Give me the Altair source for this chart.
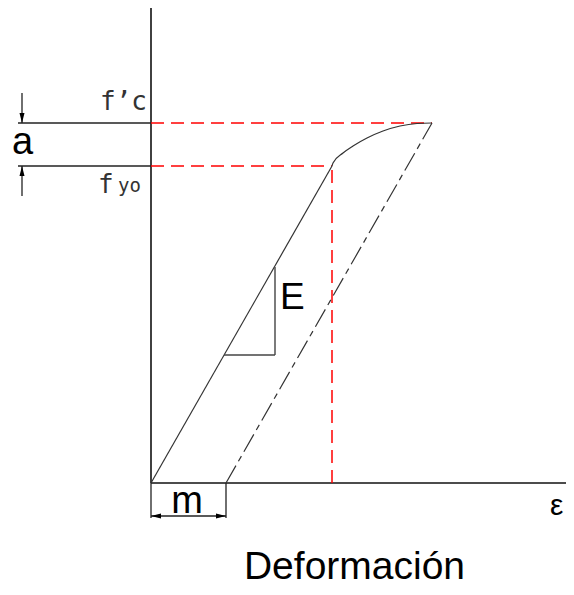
import altair as alt
import pandas as pd

# ---- values (chart units: strain on x, stress on y) ----
f_c = 36.0        # f'c  (peak stress)
f_yo = 31.7       # f_yo (yield stress)
eps_yo = 18.1     # strain at f_yo
eps_c = 28.1      # strain at f'c
m = 7.5           # residual strain offset
axis_top = 47.5
axis_right = 41.5

curve_eps = [18.1, 18.2, 19.2, 20.2, 21.6, 23.2, 24.9, 26.6, 28.1]
curve_sig = [31.7, 32.0, 33.0, 33.7, 34.5, 35.2, 35.7, 35.95, 36.0]

tri_eps = [7.3, 12.4, 12.4]
tri_sig = [12.8, 12.8, 21.6]

ext_left = -13.3      # left end of f'c / f_yo extension lines
a_dim_x = -12.9       # x of the 'a' dimension arrows
a_dim_len = 3.0       # length of each arrow stem
m_dim_y = -3.3        # y of the 'm' dimension line
m_ext_y = -3.5        # bottom of the 'm' extension lines

labels = ["a", "E", "m", "ε", "Deformación"]
label_x = [-13.9, 12.9, 3.6, 39.9, 20.35]
label_y = [32.9, 17.4, -3.0, -3.2, -9.55]
label_size = [38, 37, 38, 30, 39]
label_align = ["left", "left", "center", "left", "center"]

xs = alt.Scale(domain=[-14.3, 41.5], nice=False, zero=False)
ys = alt.Scale(domain=[-10.4, 47.5], nice=False, zero=False)


def seg(rows):
    return pd.DataFrame(rows, columns=["x", "y", "x2", "y2"])


def rules(df, color, width, dash=None):
    kw = dict(color=color, strokeWidth=width)
    if dash:
        kw["strokeDash"] = dash
    return alt.Chart(df).mark_rule(**kw).encode(
        x=alt.X("x:Q", scale=xs, axis=None),
        y=alt.Y("y:Q", scale=ys, axis=None),
        x2="x2:Q",
        y2="y2:Q",
    )


axes = rules(seg([[0, 0, 0, axis_top], [0, 0, axis_right, 0]]), "#111", 1.6)
ext = rules(seg([[ext_left, f_c, 0, f_c], [ext_left, f_yo, 0, f_yo],
                 [a_dim_x, f_c, a_dim_x, f_c + a_dim_len],
                 [a_dim_x, f_yo, a_dim_x, f_yo - a_dim_len],
                 [0, 0, 0, m_ext_y], [m, 0, m, m_ext_y],
                 [0, m_dim_y, m, m_dim_y]]), "#222", 1.3)
red = rules(seg([[0, f_c, eps_c, f_c], [0, f_yo, eps_yo, f_yo],
                 [eps_yo, 0, eps_yo, f_yo]]), "#ff0000", 1.5, [13, 7])
loading = rules(seg([[0, 0, eps_yo, f_yo]]), "#333", 1.2)
unloading = rules(seg([[m, 0, eps_c, f_c]]), "#333", 1.2, [20, 5, 6, 5])
triangle = rules(seg([[tri_eps[0], tri_sig[0], tri_eps[1], tri_sig[1]],
                      [tri_eps[1], tri_sig[1], tri_eps[2], tri_sig[2]]]), "#444", 1.4)

curve = alt.Chart(pd.DataFrame({"x": curve_eps, "y": curve_sig,
                                "o": list(range(len(curve_eps)))})).mark_line(
    color="#333", strokeWidth=1.2, interpolate="monotone"
).encode(x=alt.X("x:Q", scale=xs, axis=None), y=alt.Y("y:Q", scale=ys, axis=None),
         order="o:Q")

arrow_path = "M -1 4 L 1 4 L 0 0 Z"
arrows = alt.Chart(pd.DataFrame({
    "x": [a_dim_x, a_dim_x, 0, m],
    "y": [f_c, f_yo, m_dim_y, m_dim_y],
    "ang": [180, 0, 270, 90],
})).mark_point(shape=arrow_path, filled=True, color="#000", size=25, opacity=1).encode(
    x=alt.X("x:Q", scale=xs, axis=None), y=alt.Y("y:Q", scale=ys, axis=None),
    angle=alt.Angle("ang:Q", scale=None),
)

text_layers = []
for t, x, y, s, al in zip(labels, label_x, label_y, label_size, label_align):
    text_layers.append(
        alt.Chart(pd.DataFrame({"x": [x], "y": [y], "t": [t]})).mark_text(
            font="Liberation Sans", fontSize=s, align=al, baseline="alphabetic", color="#000"
        ).encode(x=alt.X("x:Q", scale=xs, axis=None), y=alt.Y("y:Q", scale=ys, axis=None),
                 text="t:N")
    )

# CAD-style stress labels
cad = [("f’c", -0.4, 37.3, 26, "right"), ("f", -5.3, 29.0, 26, "left"),
       ("yo", -1.0, 29.1, 19, "right")]
for t, x, y, s, al in cad:
    text_layers.append(
        alt.Chart(pd.DataFrame({"x": [x], "y": [y], "t": [t]})).mark_text(
            font="DejaVu Sans Mono", fontSize=s, align=al, baseline="alphabetic",
            color="#333", fontWeight=300
        ).encode(x=alt.X("x:Q", scale=xs, axis=None), y=alt.Y("y:Q", scale=ys, axis=None),
                 text="t:N")
    )

chart = alt.layer(axes, ext, red, loading, unloading, curve, triangle, arrows,
                  *text_layers).properties(
    width=558, height=579, padding=0, autosize=alt.AutoSizeParams(type="none")
).configure_view(stroke=None)

chart.save("out.html", embed_options={"renderer": "svg", "actions": False})
